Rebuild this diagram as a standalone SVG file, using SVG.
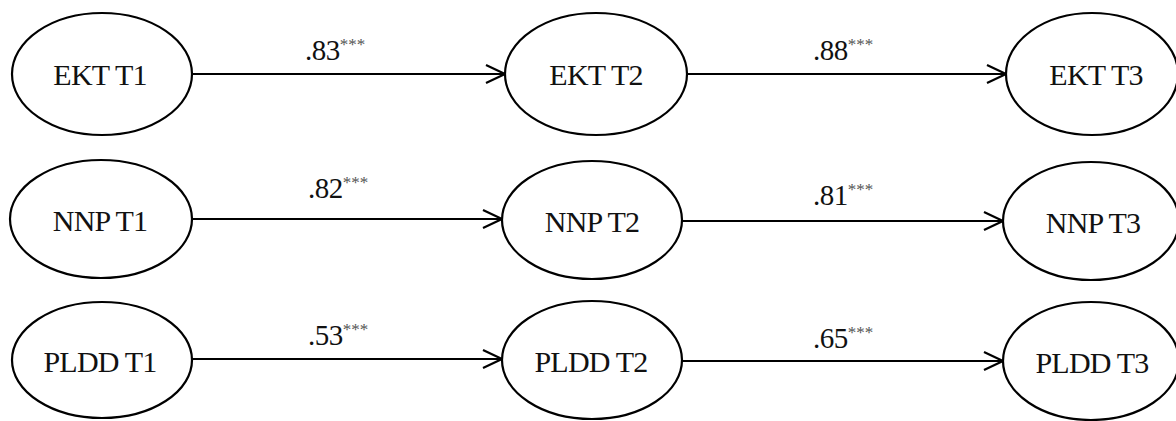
<svg xmlns="http://www.w3.org/2000/svg" width="1176" height="421" viewBox="0 0 1176 421">
<style>
.node ellipse{fill:#fff;stroke:#000;stroke-width:2.2}
.node text{font-family:"Liberation Serif","Times New Roman",serif;font-size:30px;letter-spacing:-0.8px;fill:#111;text-anchor:middle}
.conn path{fill:none;stroke:#000;stroke-width:2.2}
.lbl{font-family:"Liberation Serif","Times New Roman",serif;font-size:29px;letter-spacing:-0.5px;fill:#111}
.sup{font-size:17px;fill:#555;letter-spacing:0}
</style>
<rect width="1176" height="421" fill="#fff"/>
<g id="connectors" class="conn">
<path d="M192 74 H505 M486 65 L505 74 L486 83"/>
<path d="M687 74 H1006 M987 65 L1006 74 L987 83"/>
<path d="M192 219 H502 M483 210 L502 219 L483 228"/>
<path d="M682 221 H1003 M984 212 L1003 221 L984 230"/>
<path d="M192 359 H502 M483 350 L502 359 L483 368"/>
<path d="M682 361 H1003 M984 352 L1003 361 L984 370"/>
</g>
<g id="labels">
<text class="lbl" x="305" y="60">.83<tspan class="sup" dy="-10">***</tspan></text>
<text class="lbl" x="813" y="60">.88<tspan class="sup" dy="-10">***</tspan></text>
<text class="lbl" x="308" y="198">.82<tspan class="sup" dy="-10">***</tspan></text>
<text class="lbl" x="813" y="205">.81<tspan class="sup" dy="-10">***</tspan></text>
<text class="lbl" x="308" y="345">.53<tspan class="sup" dy="-10">***</tspan></text>
<text class="lbl" x="813" y="348">.65<tspan class="sup" dy="-10">***</tspan></text>
</g>
<g id="ekt-t1" class="node"><ellipse cx="102" cy="74" rx="90" ry="61"/><text x="100" y="85">EKT T1</text></g>
<g id="ekt-t2" class="node"><ellipse cx="596" cy="74" rx="91" ry="61"/><text x="596" y="85">EKT T2</text></g>
<g id="ekt-t3" class="node"><ellipse cx="1092" cy="74" rx="86" ry="61"/><text x="1096" y="85">EKT T3</text></g>
<g id="nnp-t1" class="node"><ellipse cx="101" cy="219" rx="91" ry="59"/><text x="100" y="231">NNP T1</text></g>
<g id="nnp-t2" class="node"><ellipse cx="592" cy="220" rx="90" ry="59"/><text x="592" y="232">NNP T2</text></g>
<g id="nnp-t3" class="node"><ellipse cx="1091" cy="221" rx="88" ry="59"/><text x="1093" y="233">NNP T3</text></g>
<g id="pldd-t1" class="node"><ellipse cx="102" cy="360" rx="90" ry="58"/><text x="100" y="372">PLDD T1</text></g>
<g id="pldd-t2" class="node"><ellipse cx="592" cy="360" rx="90" ry="59"/><text x="591" y="372">PLDD T2</text></g>
<g id="pldd-t3" class="node"><ellipse cx="1091" cy="361" rx="88" ry="59"/><text x="1092" y="373">PLDD T3</text></g>
</svg>
